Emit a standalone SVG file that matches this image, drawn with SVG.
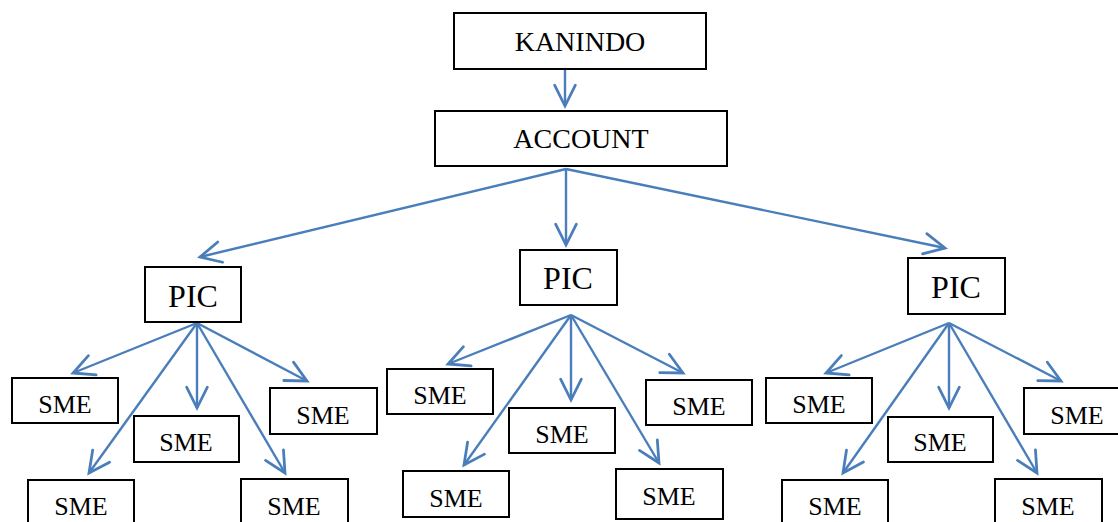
<svg xmlns="http://www.w3.org/2000/svg" width="1118" height="522" viewBox="0 0 1118 522">
<defs>
<marker id="arr" markerUnits="userSpaceOnUse" markerWidth="30" markerHeight="30" refX="0" refY="0" viewBox="-22 -12 26 24" orient="auto" overflow="visible">
<path d="M-18,-9 L0,0 L-18,9" fill="none" stroke="#4A7EBB" stroke-width="2.4" stroke-linecap="round" stroke-linejoin="miter"/>
</marker>
<style>
.box{fill:#fff;stroke:#000;stroke-width:2}
.t{font-family:"Liberation Serif","Times New Roman",serif;fill:#000;text-anchor:middle}
.big{font-size:28px}
.pic{font-size:32px}
.sme{font-size:26px}
.c{stroke:#4A7EBB;stroke-width:2.4;fill:none;marker-end:url(#arr)}
</style>
</defs>
<rect width="1118" height="522" fill="#fff"/>
<g id="connectors">
<line class="c" x1="565" y1="69" x2="565" y2="106"/>
<line class="c" x1="566" y1="169" x2="200" y2="257"/>
<line class="c" x1="566" y1="169" x2="566" y2="245"/>
<line class="c" x1="566" y1="169" x2="945" y2="248"/>
<line class="c" x1="197" y1="323" x2="73" y2="373"/>
<line class="c" x1="197" y1="323" x2="89" y2="473"/>
<line class="c" x1="197" y1="323" x2="197" y2="408"/>
<line class="c" x1="197" y1="323" x2="285" y2="473"/>
<line class="c" x1="197" y1="323" x2="307" y2="381"/>
<line class="c" x1="571" y1="315" x2="448" y2="364"/>
<line class="c" x1="571" y1="315" x2="464" y2="465"/>
<line class="c" x1="571" y1="315" x2="571" y2="400"/>
<line class="c" x1="571" y1="315" x2="659" y2="463"/>
<line class="c" x1="571" y1="315" x2="683" y2="373"/>
<line class="c" x1="949" y1="323" x2="826" y2="373"/>
<line class="c" x1="949" y1="323" x2="843" y2="473"/>
<line class="c" x1="949" y1="323" x2="949" y2="408"/>
<line class="c" x1="949" y1="323" x2="1037" y2="473"/>
<line class="c" x1="949" y1="323" x2="1061" y2="381"/>
</g>
<g id="kanindo"><rect class="box" x="454" y="13" width="252" height="56"/><text class="t big" x="580" y="51">KANINDO</text></g>
<g id="account"><rect class="box" x="435" y="111" width="292" height="55"/><text class="t big" x="581" y="148">ACCOUNT</text></g>
<g id="pic1"><rect class="box" x="145" y="267" width="96" height="55"/><text class="t pic" x="193" y="307">PIC</text></g>
<g id="pic2"><rect class="box" x="520" y="250" width="97" height="55"/><text class="t pic" x="568" y="289">PIC</text></g>
<g id="pic3"><rect class="box" x="908" y="258" width="97" height="56"/><text class="t pic" x="956" y="298">PIC</text></g>
<g id="sme1a"><rect class="box" x="12" y="378" width="106" height="45"/><text class="t sme" x="65" y="413">SME</text></g>
<g id="sme1b"><rect class="box" x="134" y="416" width="105" height="46"/><text class="t sme" x="186" y="451">SME</text></g>
<g id="sme1c"><rect class="box" x="270" y="388" width="107" height="46"/><text class="t sme" x="323" y="424">SME</text></g>
<g id="sme1d"><rect class="box" x="28" y="480" width="106" height="46"/><text class="t sme" x="81" y="515">SME</text></g>
<g id="sme1e"><rect class="box" x="241" y="479" width="107" height="47"/><text class="t sme" x="294" y="515">SME</text></g>
<g id="sme2a"><rect class="box" x="387" y="369" width="106" height="45"/><text class="t sme" x="440" y="404">SME</text></g>
<g id="sme2b"><rect class="box" x="509" y="408" width="106" height="45"/><text class="t sme" x="562" y="443">SME</text></g>
<g id="sme2c"><rect class="box" x="646" y="380" width="106" height="45"/><text class="t sme" x="699" y="415">SME</text></g>
<g id="sme2d"><rect class="box" x="403" y="471" width="106" height="46"/><text class="t sme" x="456" y="507">SME</text></g>
<g id="sme2e"><rect class="box" x="616" y="469" width="107" height="50"/><text class="t sme" x="669" y="505">SME</text></g>
<g id="sme3a"><rect class="box" x="766" y="378" width="106" height="45"/><text class="t sme" x="819" y="413">SME</text></g>
<g id="sme3b"><rect class="box" x="888" y="417" width="105" height="45"/><text class="t sme" x="940" y="451">SME</text></g>
<g id="sme3c"><rect class="box" x="1024" y="388" width="106" height="46"/><text class="t sme" x="1077" y="424">SME</text></g>
<g id="sme3d"><rect class="box" x="782" y="480" width="106" height="46"/><text class="t sme" x="835" y="515">SME</text></g>
<g id="sme3e"><rect class="box" x="995" y="479" width="107" height="47"/><text class="t sme" x="1048" y="515">SME</text></g>
</svg>
